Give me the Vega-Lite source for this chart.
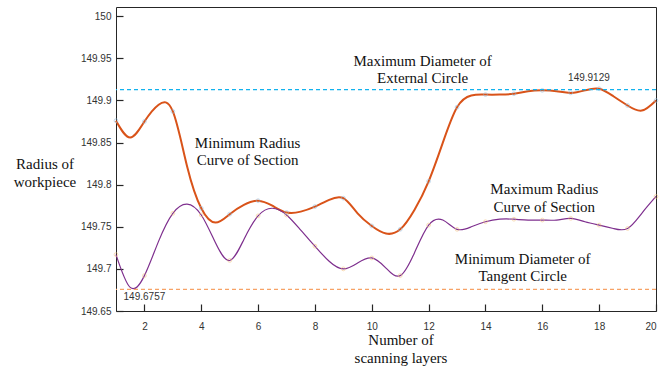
{
  "$schema": "https://vega.github.io/schema/vega-lite/v6.json",
  "width": 540,
  "height": 304,
  "autosize": {"type": "none"},
  "padding": {"left": 116, "top": 7, "right": 15, "bottom": 56},
  "background": "white",
  "config": {
    "view": {"stroke": "#262626", "strokeWidth": 1},
    "axis": {
      "grid": false,
      "domain": false,
      "ticks": true,
      "tickSize": 7,
      "offset": -7,
      "zindex": 1,
      "labelFont": "Liberation Sans",
      "labelFontSize": 10,
      "labelColor": "#333333",
      "tickColor": "#262626",
      "tickWidth": 1.2,
      "tickOpacity": 1,
      "titleFont": "Liberation Serif",
      "titleFontSize": 15,
      "titleFontWeight": "normal",
      "titleColor": "#111111"
    }
  },
  "datasets": {
    "curves": [
      {"x": 1, "y": 149.876, "series": "min"},
      {"x": 1.5, "y": 149.856, "series": "min"},
      {"x": 2, "y": 149.875, "series": "min"},
      {"x": 2.5, "y": 149.895, "series": "min"},
      {"x": 3, "y": 149.887, "series": "min"},
      {"x": 3.5, "y": 149.822, "series": "min"},
      {"x": 4, "y": 149.772, "series": "min"},
      {"x": 4.5, "y": 149.755, "series": "min"},
      {"x": 5, "y": 149.765, "series": "min"},
      {"x": 5.5, "y": 149.776, "series": "min"},
      {"x": 6, "y": 149.781, "series": "min"},
      {"x": 6.5, "y": 149.775, "series": "min"},
      {"x": 7, "y": 149.767, "series": "min"},
      {"x": 7.5, "y": 149.768, "series": "min"},
      {"x": 8, "y": 149.774, "series": "min"},
      {"x": 8.5, "y": 149.782, "series": "min"},
      {"x": 9, "y": 149.784, "series": "min"},
      {"x": 9.5, "y": 149.766, "series": "min"},
      {"x": 10, "y": 149.751, "series": "min"},
      {"x": 10.5, "y": 149.742, "series": "min"},
      {"x": 11, "y": 149.747, "series": "min"},
      {"x": 11.5, "y": 149.770, "series": "min"},
      {"x": 12, "y": 149.804, "series": "min"},
      {"x": 12.5, "y": 149.850, "series": "min"},
      {"x": 13, "y": 149.892, "series": "min"},
      {"x": 13.5, "y": 149.906, "series": "min"},
      {"x": 14, "y": 149.907, "series": "min"},
      {"x": 14.5, "y": 149.907, "series": "min"},
      {"x": 15, "y": 149.908, "series": "min"},
      {"x": 15.5, "y": 149.911, "series": "min"},
      {"x": 16, "y": 149.912, "series": "min"},
      {"x": 16.5, "y": 149.911, "series": "min"},
      {"x": 17, "y": 149.909, "series": "min"},
      {"x": 17.5, "y": 149.912, "series": "min"},
      {"x": 18, "y": 149.914, "series": "min"},
      {"x": 18.5, "y": 149.905, "series": "min"},
      {"x": 19, "y": 149.894, "series": "min"},
      {"x": 19.5, "y": 149.888, "series": "min"},
      {"x": 20, "y": 149.900, "series": "min"},
      {"x": 1, "y": 149.717, "series": "max"},
      {"x": 1.5, "y": 149.678, "series": "max"},
      {"x": 2, "y": 149.692, "series": "max"},
      {"x": 2.5, "y": 149.733, "series": "max"},
      {"x": 3, "y": 149.766, "series": "max"},
      {"x": 3.5, "y": 149.777, "series": "max"},
      {"x": 4, "y": 149.764, "series": "max"},
      {"x": 4.5, "y": 149.731, "series": "max"},
      {"x": 5, "y": 149.710, "series": "max"},
      {"x": 5.5, "y": 149.735, "series": "max"},
      {"x": 6, "y": 149.763, "series": "max"},
      {"x": 6.5, "y": 149.772, "series": "max"},
      {"x": 7, "y": 149.764, "series": "max"},
      {"x": 7.5, "y": 149.746, "series": "max"},
      {"x": 8, "y": 149.727, "series": "max"},
      {"x": 8.5, "y": 149.709, "series": "max"},
      {"x": 9, "y": 149.700, "series": "max"},
      {"x": 9.5, "y": 149.707, "series": "max"},
      {"x": 10, "y": 149.713, "series": "max"},
      {"x": 10.5, "y": 149.701, "series": "max"},
      {"x": 11, "y": 149.692, "series": "max"},
      {"x": 11.5, "y": 149.719, "series": "max"},
      {"x": 12, "y": 149.752, "series": "max"},
      {"x": 12.5, "y": 149.758, "series": "max"},
      {"x": 13, "y": 149.747, "series": "max"},
      {"x": 13.5, "y": 149.750, "series": "max"},
      {"x": 14, "y": 149.756, "series": "max"},
      {"x": 14.5, "y": 149.759, "series": "max"},
      {"x": 15, "y": 149.759, "series": "max"},
      {"x": 15.5, "y": 149.758, "series": "max"},
      {"x": 16, "y": 149.758, "series": "max"},
      {"x": 16.5, "y": 149.758, "series": "max"},
      {"x": 17, "y": 149.760, "series": "max"},
      {"x": 17.5, "y": 149.756, "series": "max"},
      {"x": 18, "y": 149.752, "series": "max"},
      {"x": 18.5, "y": 149.748, "series": "max"},
      {"x": 19, "y": 149.748, "series": "max"},
      {"x": 19.5, "y": 149.766, "series": "max"},
      {"x": 20, "y": 149.786, "series": "max"}
    ],
    "refs": [
      {"value": 149.9129, "series": "ext"},
      {"value": 149.6757, "series": "tan"}
    ],
    "serifLabels": [
      {"x": 11.79, "y": 149.947, "text": "Maximum Diameter of"},
      {"x": 11.79, "y": 149.927, "text": "External Circle"},
      {"x": 5.63, "y": 149.850, "text": "Minimum  Radius"},
      {"x": 5.63, "y": 149.829, "text": "Curve of Section"},
      {"x": 16.07, "y": 149.795, "text": "Maximum Radius"},
      {"x": 16.07, "y": 149.773, "text": "Curve of Section"},
      {"x": 15.31, "y": 149.712, "text": "Minimum Diameter of"},
      {"x": 15.31, "y": 149.691, "text": "Tangent Circle"}
    ],
    "numLabels": [
      {"x": 17.64, "y": 149.927, "text": "149.9129"},
      {"x": 2.0, "y": 149.667, "text": "149.6757"}
    ]
  },
  "layer": [
    {
      "data": {"name": "curves"},
      "mark": {"type": "line", "interpolate": "natural"},
      "encoding": {
        "x": {
          "field": "x", "type": "quantitative",
          "scale": {"domain": [1, 20], "nice": false, "zero": false},
          "axis": {
            "orient": "bottom",
            "values": [2, 4, 6, 8, 10, 12, 14, 16, 18, 20],
            "labelPadding": 10,
            "title": ["Number of", "scanning layers"],
            "titleX": 284.5,
            "titleY": 28,
            "titleAlign": "center",
            "titleBaseline": "top",
            "titleLineHeight": 18
          }
        },
        "y": {
          "field": "y", "type": "quantitative",
          "scale": {"domain": [149.65, 150.011], "nice": false, "zero": false},
          "axis": {
            "orient": "left",
            "values": [149.65, 149.7, 149.75, 149.8, 149.85, 149.9, 149.95, 150],
            "format": ".2~f",
            "labelPadding": 5,
            "title": ["Radius of", "workpiece"],
            "titleAngle": 0,
            "titleX": -78.5,
            "titleY": 156,
            "titleAlign": "center",
            "titleBaseline": "middle",
            "titleLineHeight": 18
          }
        },
        "color": {
          "field": "series", "type": "nominal",
          "scale": {"domain": ["min", "max"], "range": ["#D95319", "#7E2F8E"]},
          "legend": null
        },
        "strokeWidth": {
          "field": "series", "type": "nominal",
          "scale": {"domain": ["min", "max"], "range": [2, 1.2]},
          "legend": null
        }
      }
    },
    {
      "data": {"name": "curves"},
      "transform": [{"filter": "datum.x % 1 === 0 && datum.series === 'min'"}],
      "mark": {"type": "point", "filled": false, "size": 14, "strokeWidth": 1, "opacity": 0.55, "stroke": "#8FBCE0"},
      "encoding": {
        "x": {"field": "x", "type": "quantitative"},
        "y": {"field": "y", "type": "quantitative"}
      }
    },
    {
      "data": {"name": "curves"},
      "transform": [{"filter": "datum.x % 1 === 0 && datum.series === 'max'"}],
      "mark": {"type": "point", "filled": false, "size": 14, "strokeWidth": 1, "opacity": 0.55, "stroke": "#F5C07A"},
      "encoding": {
        "x": {"field": "x", "type": "quantitative"},
        "y": {"field": "y", "type": "quantitative"}
      }
    },
    {
      "data": {"name": "refs"},
      "transform": [{"filter": "datum.series === 'ext'"}],
      "mark": {"type": "rule", "strokeDash": [4, 3], "strokeWidth": 1.2, "stroke": "#12B2EE"},
      "encoding": {
        "y": {"field": "value", "type": "quantitative"}
      }
    },
    {
      "data": {"name": "refs"},
      "transform": [{"filter": "datum.series === 'tan'"}],
      "mark": {"type": "rule", "strokeDash": [4, 3], "strokeWidth": 1.2, "stroke": "#F7A266"},
      "encoding": {
        "y": {"field": "value", "type": "quantitative"}
      }
    },
    {
      "data": {"name": "serifLabels"},
      "mark": {"type": "text", "font": "Liberation Serif", "fontSize": 15, "align": "center", "baseline": "middle", "color": "#111111"},
      "encoding": {
        "x": {"field": "x", "type": "quantitative"},
        "y": {"field": "y", "type": "quantitative"},
        "text": {"field": "text"}
      }
    },
    {
      "data": {"name": "numLabels"},
      "mark": {"type": "text", "font": "Liberation Sans", "fontSize": 10, "align": "center", "baseline": "middle", "color": "#333333"},
      "encoding": {
        "x": {"field": "x", "type": "quantitative"},
        "y": {"field": "y", "type": "quantitative"},
        "text": {"field": "text"}
      }
    }
  ]
}
